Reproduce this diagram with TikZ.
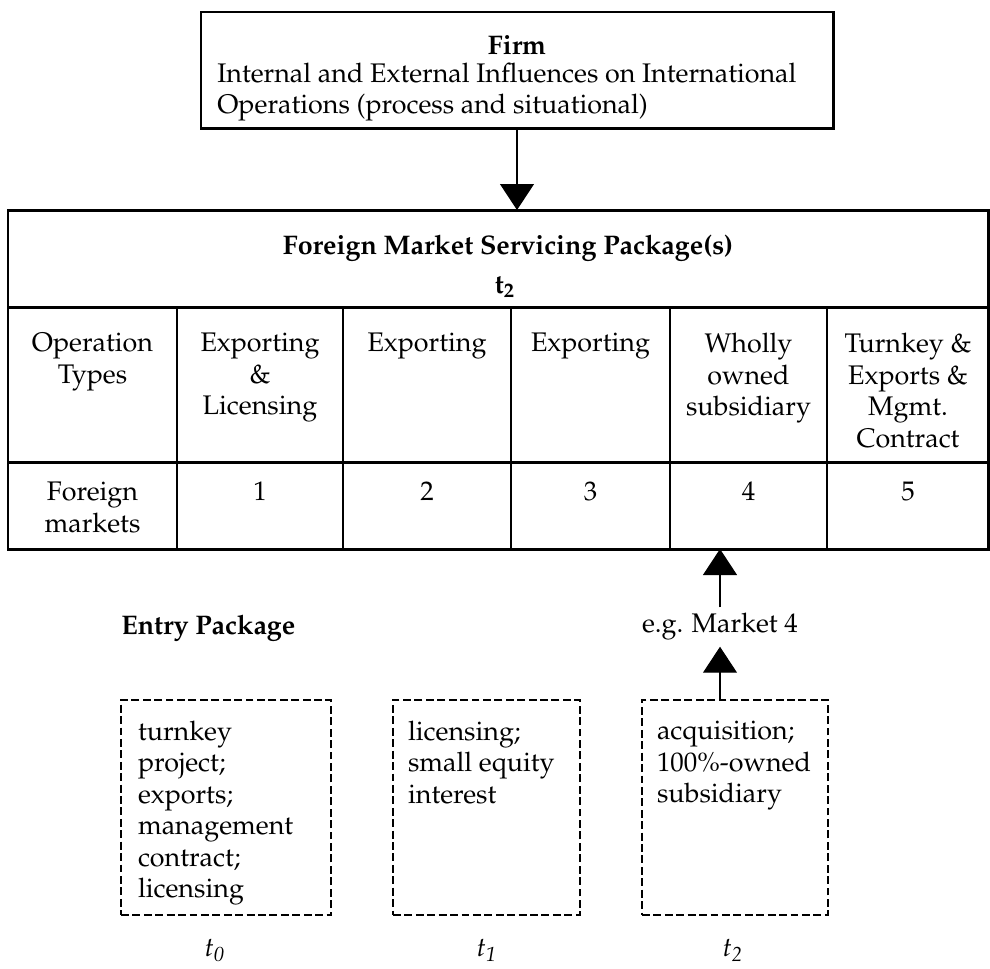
\documentclass[tikz,border=0pt]{standalone}
\usepackage[T1]{fontenc}
\usepackage{mathpazo}
\usetikzlibrary{arrows.meta}

\begin{document}
\begin{tikzpicture}[
        font=\fontsize{15.3}{17.9}\selectfont,
        box/.style={draw, line width=1.7pt},
        cell/.style={anchor=north, align=center, inner sep=0pt},
        ebox/.style={draw, line width=1.5pt, dash pattern=on 4.5pt off 2pt,
          minimum width=#1, minimum height=4.3cm, inner sep=0pt},
        etext/.style={anchor=north west, align=left, inner sep=0pt},
        arr/.style={line width=.6pt, -{Triangle[width=.68cm, length=.52cm]}}]

      \useasboundingbox (0,0) rectangle (19.8,-19.36);

      % firm
      \node[box, minimum width=12.64cm, minimum height=2.32cm] (firm) at (10.34,-1.4) {};
      \node[inner sep=0pt] (firmhead) at (10.34,-0.9) {\textbf{Firm}};
      \node[etext, anchor=west] (firmtext) at (4.34,-1.84)
        {Internal and External Influences on International\\
         Operations (process and situational)};

      % servicing package table
      \draw[box] (0.16,-4.2) rectangle (19.76,-10.98);
      \draw[box] (0.16,-6.14) -- (19.76,-6.14) (0.16,-9.24) -- (19.76,-9.24);
      \foreach \x in {3.54,6.86,10.22,13.4,16.54}
        \draw[line width=1.1pt] (\x,-6.14) -- (\x,-10.98);
      \coordinate (pkgtop) at (10.34,-4.2);
      \coordinate (pkgbot) at (14.4,-10.98);
      \draw[arr] (firm) -- (pkgtop);
      \node[inner sep=0pt] (pkghead) at (10.16,-4.96)
        {\textbf{Foreign Market Servicing Package(s)}};
      \node[inner sep=0pt] (pkgtime) at (10.1,-5.74) {\textbf{t\textsubscript{2}}};

      \node[cell] (op0) at (1.85,-6.66) {Operation\\Types};
      \node[cell] (op1) at (5.2,-6.66) {Exporting\\\&\\Licensing};
      \node[cell] (op2) at (8.54,-6.66) {Exporting};
      \node[cell] (op3) at (11.81,-6.66) {Exporting};
      \node[cell] (op4) at (14.97,-6.66) {Wholly\\owned\\subsidiary};
      \node[cell] (op5) at (18.16,-6.66) {Turnkey \&\\Exports \&\\Mgmt.\\Contract};

      \node[cell] (fm0) at (1.85,-9.64) {Foreign\\markets};
      \foreach \n/\x in {1/5.2,2/8.54,3/11.81,4/14.97,5/18.16}
        \node[cell] (fm\n) at (\x,-9.64) {\n};

      % entry packages
      \node[anchor=west, inner sep=0pt] (entry) at (2.42,-12.56) {\textbf{Entry Package}};
      \node (mkt) at (14.4,-12.54) {e.g. Market 4};
      \draw[arr] (mkt) -- (pkgbot);

      \node[ebox=4.2cm] (ent0) at (4.52,-16.15) {};
      \node[ebox=3.74cm] (ent1) at (9.73,-16.15) {};
      \node[ebox=3.72cm] (ent2) at (14.7,-16.15) {};
      \draw[arr] (ent2.north -| mkt) -- (mkt);

      \node[etext] (ent0text) at ([shift={(0.36,-0.44)}]ent0.north west)
        {turnkey\\project;\\exports;\\management\\contract;\\licensing};
      \node[etext] (ent1text) at ([shift={(0.32,-0.44)}]ent1.north west)
        {licensing;\\small equity\\interest};
      \node[etext] (ent2text) at ([shift={(0.32,-0.44)}]ent2.north west)
        {acquisition;\\100\%-owned\\subsidiary};

      \node[inner sep=0pt] (time0) at (4.3,-19.0) {\textit{t\textsubscript{0}}};
      \node[inner sep=0pt] (time1) at (9.74,-19.0) {\textit{t\textsubscript{1}}};
      \node[inner sep=0pt] (time2) at (14.66,-19.0) {\textit{t\textsubscript{2}}};
    \end{tikzpicture}
\end{document}
